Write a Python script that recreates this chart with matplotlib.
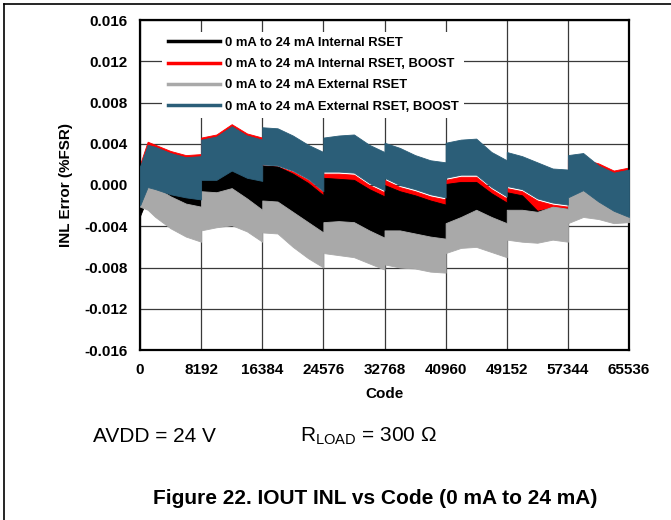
import matplotlib
matplotlib.use("Agg")
import matplotlib.pyplot as plt
from matplotlib.lines import Line2D

plt.rcParams['font.family'] = ['Liberation Sans', 'DejaVu Sans']
plt.rcParams['axes.unicode_minus'] = False

# codigo DAC (pares en cada salto de 8192)
codes = [0, 1024, 2048, 4096, 6144, 8191,
         8192, 10240, 12288, 14336, 16383,
         16384, 18432, 20480, 22528, 24575,
         24576, 26624, 28672, 30720, 32767,
         32768, 34816, 36864, 38912, 40959,
         40960, 43008, 45056, 47104, 49151,
         49152, 51200, 53248, 55296, 57343,
         57344, 59392, 61440, 63488, 65535]

# Internal RSET (negro): borde superior / inferior
int_hi = [-0.0018, -0.0001, -0.0003, -0.0008, -0.0010, -0.0012,
          0.0007, 0.0007, 0.0016, 0.0009, 0.0006,
          0.0019, 0.0018, 0.0011, 0.0002, -0.0010,
          0.0007, 0.0006, 0.0005, -0.0004, -0.0011,
          0.0000, -0.0006, -0.0010, -0.0015, -0.0019,
          0.0001, 0.0003, 0.0003, -0.0008, -0.0017,
          -0.0007, -0.0010, -0.0025, -0.0022, -0.0023,
          0.0015, 0.0015, 0.0017, 0.0011, 0.0012]
int_lo = [-0.0030, -0.0012, -0.0014, -0.0023, -0.0030, -0.0033,
          -0.0018, -0.0019, -0.0015, -0.0025, -0.0036,
          -0.0027, -0.0028, -0.0038, -0.0048, -0.0058,
          -0.0048, -0.0047, -0.0048, -0.0056, -0.0063,
          -0.0056, -0.0056, -0.0059, -0.0062, -0.0064,
          -0.0049, -0.0043, -0.0036, -0.0043, -0.0049,
          -0.0036, -0.0036, -0.0038, -0.0033, -0.0035,
          -0.0023, -0.0016, -0.0027, -0.0034, -0.0035]

# Internal RSET, BOOST (rojo)
int_boost_hi = [0.0020, 0.0042, 0.0039, 0.0033, 0.0029, 0.0030,
                0.0046, 0.0049, 0.0059, 0.0050, 0.0046,
                0.0019, 0.0018, 0.0013, 0.0005, -0.0007,
                0.0011, 0.0011, 0.0010, 0.0000, -0.0007,
                0.0005, -0.0002, -0.0006, -0.0011, -0.0014,
                0.0005, 0.0008, 0.0008, -0.0004, -0.0013,
                -0.0003, -0.0006, -0.0015, -0.0019, -0.0021,
                0.0025, 0.0025, 0.0021, 0.0014, 0.0017]
int_boost_lo = [-0.0028, -0.0011, -0.0013, -0.0018, -0.0020, -0.0022,
                -0.0003, -0.0003, 0.0006, -0.0001, -0.0004,
                0.0009, 0.0008, 0.0001, -0.0008, -0.0020,
                -0.0003, -0.0004, -0.0005, -0.0014, -0.0021,
                -0.0010, -0.0016, -0.0020, -0.0025, -0.0029,
                -0.0009, -0.0007, -0.0007, -0.0018, -0.0027,
                -0.0017, -0.0020, -0.0031, -0.0032, -0.0033,
                0.0005, 0.0005, 0.0007, 0.0001, 0.0002]

# External RSET (gris)
ext_hi = [-0.0020, 0.0000, -0.0002, -0.0011, -0.0018, -0.0021,
          -0.0006, -0.0007, -0.0003, -0.0013, -0.0024,
          -0.0015, -0.0016, -0.0026, -0.0036, -0.0046,
          -0.0036, -0.0035, -0.0036, -0.0044, -0.0051,
          -0.0044, -0.0044, -0.0047, -0.0050, -0.0052,
          -0.0037, -0.0031, -0.0024, -0.0031, -0.0037,
          -0.0024, -0.0024, -0.0026, -0.0021, -0.0023,
          -0.0011, -0.0004, -0.0015, -0.0024, -0.0030]
ext_lo = [-0.0021, -0.0024, -0.0031, -0.0042, -0.0050, -0.0055,
          -0.0044, -0.0041, -0.0039, -0.0045, -0.0055,
          -0.0046, -0.0047, -0.0060, -0.0071, -0.0080,
          -0.0066, -0.0068, -0.0070, -0.0076, -0.0082,
          -0.0077, -0.0080, -0.0081, -0.0084, -0.0085,
          -0.0066, -0.0061, -0.0060, -0.0065, -0.0070,
          -0.0053, -0.0055, -0.0056, -0.0053, -0.0055,
          -0.0037, -0.0031, -0.0033, -0.0037, -0.0036]

# External RSET, BOOST (azul petroleo)
ext_boost_hi = [0.0018, 0.0039, 0.0037, 0.0031, 0.0027, 0.0028,
                0.0044, 0.0047, 0.0057, 0.0048, 0.0044,
                0.0056, 0.0055, 0.0048, 0.0039, 0.0032,
                0.0046, 0.0048, 0.0049, 0.0039, 0.0032,
                0.0041, 0.0036, 0.0029, 0.0024, 0.0022,
                0.0041, 0.0044, 0.0045, 0.0032, 0.0024,
                0.0032, 0.0028, 0.0022, 0.0016, 0.0015,
                0.0029, 0.0031, 0.0019, 0.0012, 0.0015]
ext_boost_lo = [-0.0020, -0.0002, -0.0004, -0.0009, -0.0012, -0.0014,
                0.0005, 0.0005, 0.0014, 0.0007, 0.0004,
                0.0020, 0.0019, 0.0014, 0.0006, -0.0006,
                0.0013, 0.0013, 0.0012, 0.0002, -0.0005,
                0.0007, 0.0000, -0.0004, -0.0009, -0.0012,
                0.0007, 0.0010, 0.0010, -0.0002, -0.0011,
                -0.0001, -0.0004, -0.0013, -0.0017, -0.0019,
                -0.0012, -0.0005, -0.0016, -0.0025, -0.0031]

labels = ['0 mA to 24 mA Internal RSET',
          '0 mA to 24 mA Internal RSET, BOOST',
          '0 mA to 24 mA External RSET',
          '0 mA to 24 mA External RSET, BOOST']
colores = ['#000000', '#ff0000', '#a9a9a9', '#2b5e78']

xticks = [0, 8192, 16384, 24576, 32768, 40960, 49152, 57344, 65536]
yticks = [-0.016, -0.012, -0.008, -0.004, 0.0, 0.004, 0.008, 0.012, 0.016]

fig = plt.figure(figsize=(6.71, 5.20), dpi=100)
ax = fig.add_axes([140/671, 170/520, 489/671, 330/520])

# orden de dibujo: rojo, negro, gris, azul encima
ax.fill_between(codes, int_boost_lo, int_boost_hi, facecolor=colores[1],
                edgecolor=colores[1], lw=0.6, zorder=2)
ax.fill_between(codes, int_lo, int_hi, facecolor=colores[0],
                edgecolor=colores[0], lw=0.6, zorder=3)
ax.fill_between(codes, ext_lo, ext_hi, facecolor=colores[2],
                edgecolor=colores[2], lw=0.6, zorder=4)
ax.fill_between(codes, ext_boost_lo, ext_boost_hi, facecolor=colores[3],
                edgecolor=colores[3], lw=0.6, zorder=5)

ax.set_xlim(0, 65536)
ax.set_ylim(-0.016, 0.016)
ax.set_xticks(xticks)
ax.set_xticklabels([str(t) for t in xticks])
ax.set_yticks(yticks)
ax.set_yticklabels(['%.3f' % t for t in yticks])
ax.tick_params(length=0, labelsize=11)
ax.tick_params(axis='y', pad=9)
ax.tick_params(axis='x', pad=9)
for lab in ax.get_xticklabels() + ax.get_yticklabels():
    lab.set_fontweight('bold')

ax.grid(True, color='#3a3a3a', lw=0.9)
ax.set_axisbelow(True)
for s in ax.spines.values():
    s.set_linewidth(1.6)
    s.set_color('black')

ax.set_xlabel('Code', fontsize=11, fontweight='bold')
ax.xaxis.set_label_coords(0.5, -0.112)
ax.set_ylabel('INL Error (%FSR)', fontsize=11, fontweight='bold')
ax.yaxis.set_label_coords(-0.137, 0.5)

handles = [Line2D([0], [0], color=c, lw=2.5) for c in colores]
leg = ax.legend(handles, labels, loc='upper left', bbox_to_anchor=(0.046, 0.965),
                prop={'weight': 'bold', 'size': 9.4}, frameon=True, fancybox=False,
                handlelength=4.0, handletextpad=0.4, labelspacing=0.7,
                borderpad=0.4, borderaxespad=0)
leg.get_frame().set_facecolor('white')
leg.get_frame().set_edgecolor('none')
leg.get_frame().set_alpha(1)
leg.set_zorder(10)

fig.text(93/671, 1 - 436/520, 'AVDD = 24 V', fontsize=15, va='center', ha='left')
fig.text(300/671, 1 - 436/520, r'R$_\mathregular{LOAD}$ = 300 Ω', fontsize=15,
         va='center', ha='left')
fig.text(375/671, 1 - 499/520, 'Figure 22. IOUT INL vs Code (0 mA to 24 mA)',
         fontsize=15, fontweight='bold', va='center', ha='center')

# marco de la figura (solo arriba e izquierda)
fig.add_artist(Line2D([4/671, 1], [1 - 3.5/520, 1 - 3.5/520], color='black', lw=1.2,
                      transform=fig.transFigure))
fig.add_artist(Line2D([4/671, 4/671], [0, 1 - 3.5/520], color='black', lw=1.2,
                      transform=fig.transFigure))

fig.savefig('out.png', dpi=100)
